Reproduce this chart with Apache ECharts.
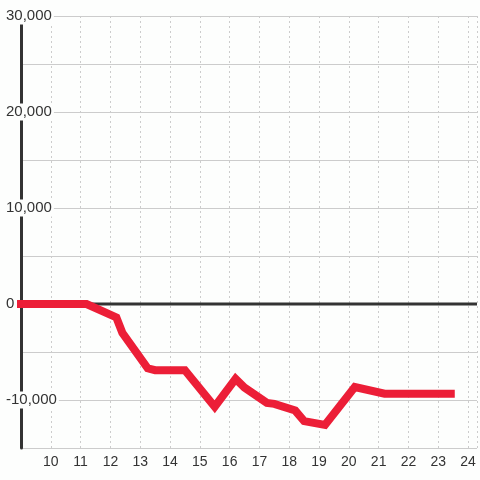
<!DOCTYPE html>
<html>
<head>
<meta charset="utf-8">
<script src="https://cdn.jsdelivr.net/npm/echarts@6/dist/echarts.min.js"></script>
<style>
html,body{margin:0;padding:0;background:#fdfefd;}
#c{width:480px;height:480px;}
</style>
</head>
<body>
<div id="c"></div>
<script>
var hours = [9, 11.2, 12.2, 12.4, 13.25, 13.5, 14.5, 15.5, 16.2, 16.5, 17.25, 17.5, 18.2, 18.5, 19.2, 20.2, 21.2, 23.42];
var values = [0, 0, -1400, -3000, -6700, -6900, -6900, -10700, -7800, -8700, -10300, -10400, -11100, -12200, -12600, -8650, -9350, -9350];
var xTickLabels = ['10','11','12','13','14','15','16','17','18','19','20','21','22','23','24'];
var yTickLabels = {'30000':'30,000','20000':'20,000','10000':'10,000','0':'0','-10000':'-10,000'};
var xMin = 9, xMax = 24.3, yMin = -15000, yMax = 30000;

var lineData = hours.map(function(h, i){ return [h, values[i]]; });
var zeroData = [[xMin, 0], [xMax, 0]];

var chart = echarts.init(document.getElementById('c'));
chart.setOption({
  backgroundColor: '#fdfefd',
  animation: false,
  grid: {left: 21, right: 0, top: 16, bottom: 32, containLabel: false},
  xAxis: {
    type: 'value', min: xMin, max: xMax, interval: 1,
    axisLine: {show: false}, axisTick: {show: false},
    axisLabel: {
      color: '#333', fontFamily: 'Liberation Sans', fontSize: 14, margin: 7,
      formatter: function(v){ var s = String(v); return xTickLabels.indexOf(s) >= 0 ? s : ''; }
    },
    splitLine: {show: true, lineStyle: {color: '#cccccc', width: 1, type: [2, 3]}}
  },
  yAxis: {
    type: 'value', min: yMin, max: yMax, interval: 5000,
    axisLine: {show: true, onZero: false, lineStyle: {color: '#333', width: 3}},
    axisTick: {show: false},
    axisLabel: {
      color: '#333', fontFamily: 'Liberation Sans', fontSize: 15, margin: 15, align: 'left',
      backgroundColor: '#fdfefd', padding: [1, 2, 1, 0], lineHeight: 15,
      formatter: function(v){ return yTickLabels[String(v)] || ''; }
    },
    splitLine: {show: true, lineStyle: {color: '#cccccc', width: 1}}
  },
  series: [
    {
      type: 'line', data: zeroData, showSymbol: false, silent: true,
      lineStyle: {color: '#333', width: 3}, z: 2
    },
    {
      type: 'line', data: lineData, showSymbol: false, silent: true, clip: false,
      lineStyle: {color: '#ec1e37', width: 8, cap: 'square', join: 'miter'}, z: 3
    }
  ]
});
</script>
</body>
</html>
